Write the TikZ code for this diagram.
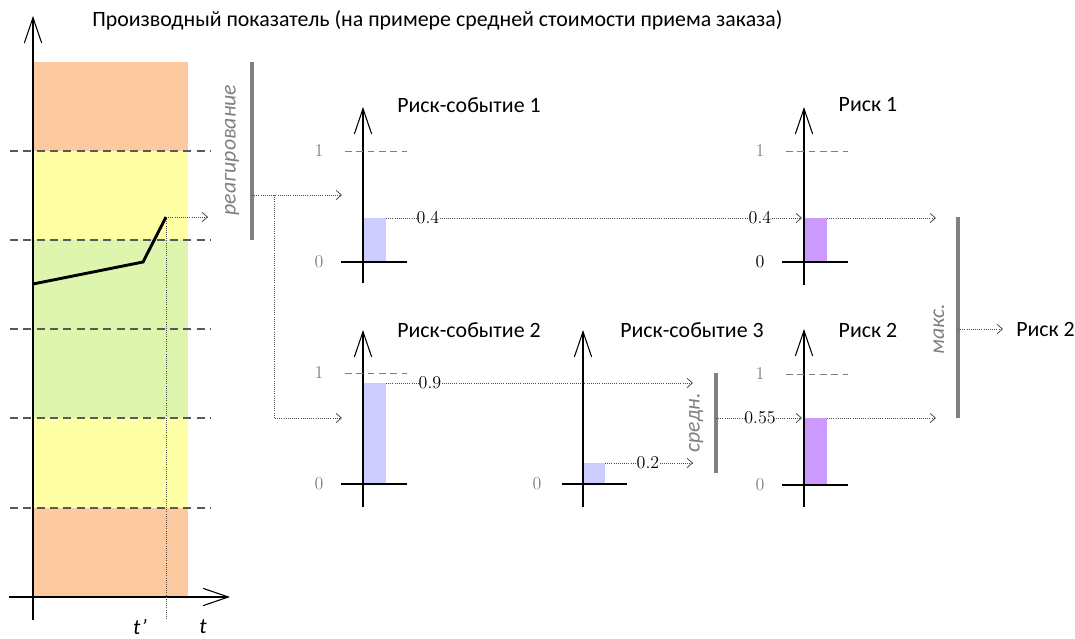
\documentclass[tikz,border=0pt]{standalone}
\usepackage{fontspec}
\setsansfont{Carlito}
\usetikzlibrary{arrows.meta}
\definecolor{zorange}{RGB}{252,202,158}
\definecolor{zyellow}{RGB}{255,255,166}
\definecolor{zgreen}{RGB}{221,245,173}
\definecolor{barblue}{RGB}{204,204,255}
\definecolor{barpurple}{RGB}{204,153,255}
\definecolor{labgray}{RGB}{128,128,128}
\begin{document}
\begin{tikzpicture}[x=0.75pt,y=-0.75pt,
  axis/.style={line width=0.9pt,-{Straight Barb[length=19pt,width=13pt,line width=0.8pt]}},
  base/.style={line width=0.9pt},
  zdash/.style={dashed,line width=0.8pt,black!65,dash pattern=on 6pt off 4pt},
  onedash/.style={dashed,line width=0.6pt,labgray,dash pattern=on 5pt off 3.5pt},
  dotline/.style={densely dotted,line width=0.6pt,black!70},
  dotarrow/.style={dotline,-{Straight Barb[length=4pt,width=7pt,line width=0.6pt]}},
  graybar/.style={line width=2.4pt,labgray},
  ttl/.style={font=\sffamily\fontsize{16.4}{19}\selectfont,inner sep=0pt},
  rot/.style={font=\sffamily\itshape\fontsize{16.4}{19}\selectfont,text=labgray,rotate=90,inner sep=0pt},
  num/.style={font=\rmfamily\fontsize{13.5}{16}\selectfont,inner sep=0pt},
  gnum/.style={num,text=labgray},
  tlab/.style={font=\sffamily\itshape\fontsize{16.4}{19}\selectfont,inner sep=0pt},
]
\useasboundingbox (0,0) rectangle (1075,639);

% ---------- left chart ----------
\fill[zorange] (33,62) rectangle (188,151);
\fill[zyellow] (33,151) rectangle (188,240);
\fill[zgreen]  (33,240) rectangle (188,418);
\fill[zyellow] (33,418) rectangle (188,508);
\fill[zorange] (33,508) rectangle (188,597);
\foreach \yy in {151,240,329,418,508} \draw[zdash] (10,\yy) -- (211,\yy);
\coordinate (lyb) at (33,620);
\coordinate (lyt) at (33,16);
\coordinate (lxl) at (9,597);
\coordinate (lxr) at (230,597);
\draw[axis] (lyb) -- (lyt);
\draw[axis] (lxl) -- (lxr);
\coordinate (c0) at (33,284);
\coordinate (c1) at (143,262);
\coordinate (c2) at (166,217);
\coordinate (c3) at (166,620);
\coordinate (c4) at (208,217);
\draw[line width=2.2pt] (c0) -- (c1) -- (c2);
\draw[dotline] (c2) -- (c3);
\draw[dotarrow] (c2) -- (c4);
\node[tlab] (tp) at (140,627) {t’};
\node[tlab] (tt) at (203,627) {t};
\node[ttl,anchor=west] (title) at (92,20) {Производный показатель (на примере средней стоимости приема заказа)};

% reagirovanie
\coordinate (rbt) at (252,62);
\coordinate (rbb) at (252,240);
\draw[graybar] (rbt) -- (rbb);
\node[rot] (reag) at (232,150) {реагирование};
\coordinate (r0) at (252,195);
\coordinate (r1) at (274,195);
\coordinate (r2) at (274,418);
\coordinate (e1in) at (342,195);
\coordinate (e2in) at (342,418);
\draw[dotarrow] (r0) -- (e1in);
\draw[dotarrow] (r1) -- (r2) -- (e2in);

% ---------- Risk event 1 ----------
\fill[barblue] (363,218) rectangle (386,262);
\draw[axis] (363,283) -- (363,107);
\draw[base] (341,262) -- (407,262);
\draw[onedash] (345,151) -- (407,151);
\node[gnum] (e1one) at (319,151) {1};
\node[gnum] (e1zero) at (319,262) {0};
\node[ttl,anchor=west] (e1t) at (397,105) {Риск-событие 1};
\coordinate (e1top) at (386,218);
\node[num] (v04a) at (428,218) {0.4};

% ---------- Risk 1 ----------
\fill[barpurple] (804,218) rectangle (827,262);
\draw[axis] (804,285) -- (804,107);
\draw[base] (782,262) -- (848,262);
\draw[onedash] (786,151) -- (848,151);
\node[gnum] (k1one) at (760,151) {1};
\node[num] (k1zero) at (760,262) {0};
\node[ttl] (k1t) at (868,105) {Риск 1};
\node[num] (v04b) at (760,218) {0.4};
\coordinate (k1in) at (802,218);
\coordinate (k1top) at (827,218);
\coordinate (k1out) at (936,218);
\draw[dotline] (e1top) -- (v04a.west);
\draw[dotline] (v04a.east) -- (v04b.west);
\draw[dotarrow] (v04b.east) -- (k1in);
\draw[dotarrow] (k1top) -- (k1out);

% ---------- Risk event 2 ----------
\fill[barblue] (363,383) rectangle (386,484);
\draw[axis] (363,507) -- (363,330);
\draw[base] (341,484) -- (407,484);
\draw[onedash] (345,373) -- (407,373);
\node[gnum] (e2one) at (319,373) {1};
\node[gnum] (e2zero) at (319,484) {0};
\node[ttl,anchor=west] (e2t) at (397,330) {Риск-событие 2};
\coordinate (e2top) at (386,383);
\node[num] (v09) at (430,383) {0.9};
\coordinate (e2out) at (693,383);
\draw[dotline] (e2top) -- (v09.west);
\draw[dotarrow] (v09.east) -- (e2out);

% ---------- Risk event 3 ----------
\fill[barblue] (583,463) rectangle (605,484);
\draw[axis] (583,507) -- (583,330);
\draw[base] (562,484) -- (627,484);
\node[gnum] (e3zero) at (537,484) {0};
\node[ttl,anchor=west] (e3t) at (620,330) {Риск-событие 3};
\coordinate (e3top) at (605,463);
\node[num] (v02) at (648,463) {0.2};
\coordinate (e3out) at (693,463);
\draw[dotline] (e3top) -- (v02.west);
\draw[dotarrow] (v02.east) -- (e3out);

% sredn
\coordinate (sbt) at (716,373);
\coordinate (sbb) at (716,473);
\draw[graybar] (sbt) -- (sbb);
\node[rot] (sred) at (696,423) {средн.};
\coordinate (s0) at (716,418);

% ---------- Risk 2 ----------
\fill[barpurple] (804,418) rectangle (827,485);
\draw[axis] (804,507) -- (804,329);
\draw[base] (782,485) -- (848,485);
\draw[onedash] (786,374) -- (848,374);
\node[gnum] (k2one) at (760,374) {1};
\node[gnum] (k2zero) at (760,485) {0};
\node[ttl] (k2t) at (868,330) {Риск 2};
\node[num] (v055) at (760,418) {0.55};
\coordinate (k2in) at (802,418);
\coordinate (k2top) at (827,418);
\coordinate (k2out) at (936,418);
\draw[dotline] (s0) -- (v055.west);
\draw[dotarrow] (v055.east) -- (k2in);
\draw[dotarrow] (k2top) -- (k2out);

% maks
\coordinate (mbt) at (958,217);
\coordinate (mbb) at (958,418);
\draw[graybar] (mbt) -- (mbb);
\node[rot] (maks) at (939,329) {макс.};
\coordinate (m0) at (958,329);
\coordinate (mout) at (1003,329);
\node[ttl,anchor=west] (final) at (1016,329) {Риск 2};
\draw[dotarrow] (m0) -- (mout);
\end{tikzpicture}
\end{document}
